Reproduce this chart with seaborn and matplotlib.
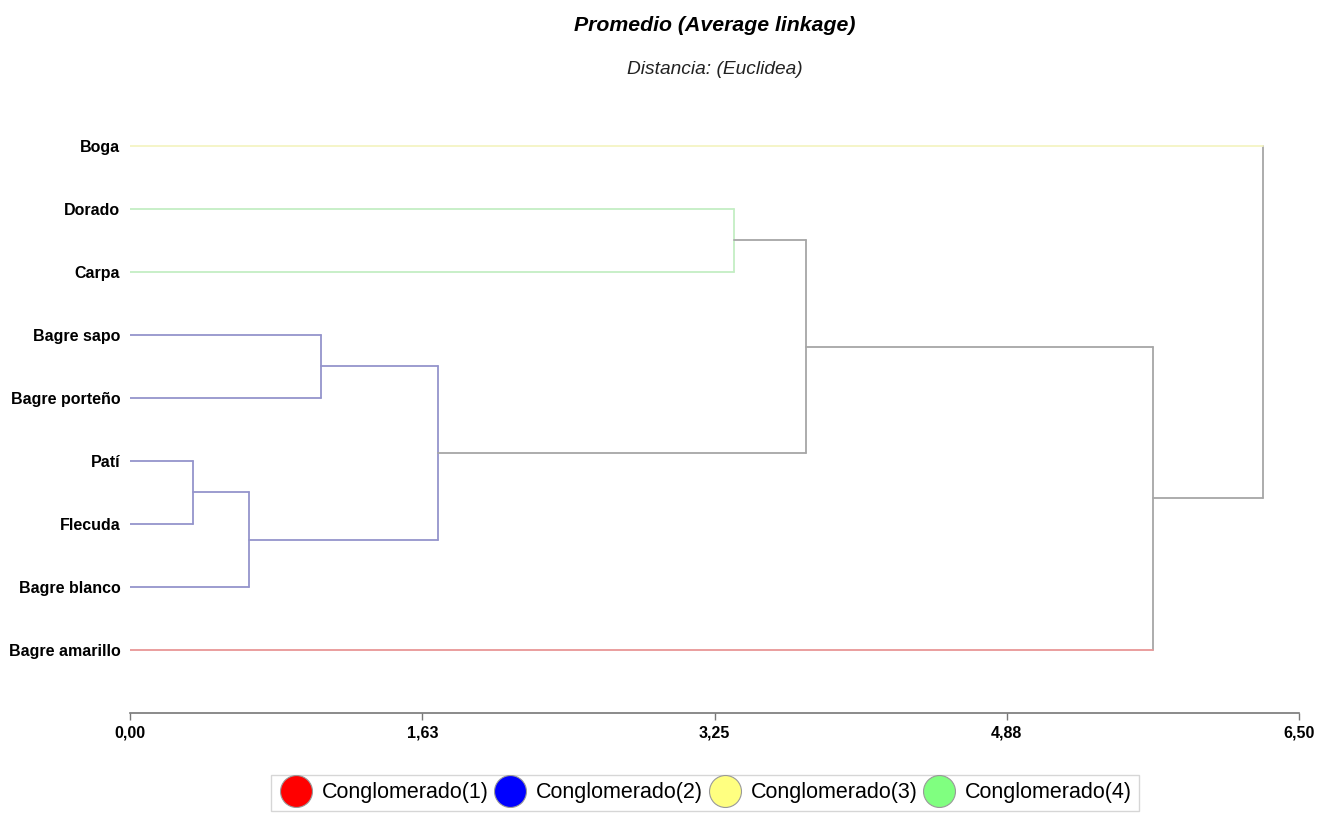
import pandas as pd
import matplotlib
matplotlib.use("Agg")
import matplotlib.pyplot as plt
import seaborn as sns
from matplotlib.lines import Line2D

# leaves, top to bottom, and their cluster (Conglomerado number)
leaves = ["Boga", "Dorado", "Carpa", "Bagre sapo", "Bagre porteño",
          "Patí", "Flecuda", "Bagre blanco", "Bagre amarillo"]
leaf_cluster = [3, 4, 4, 2, 2, 2, 2, 2, 1]

# merges (new node ids start at 9), distances
merge_left = [5, 9, 3, 11, 1, 13, 14, 15]
merge_right = [6, 7, 4, 10, 2, 12, 8, 0]
merge_height = [0.35, 0.66, 1.06, 1.71, 3.36, 3.76, 5.69, 6.30]

tick_values = [0.0, 1.625, 3.25, 4.875, 6.5]
tick_labels = ["0,00", "1,63", "3,25", "4,88", "6,50"]

legend_labels = ["Conglomerado(1)", "Conglomerado(2)", "Conglomerado(3)", "Conglomerado(4)"]
legend_colors = ["#ff0000", "#0000ff", "#ffff80", "#80ff80"]
link_colors = {"0": "#a6a6a6", "1": "#e89696", "2": "#9494cc", "3": "#f4f4c4", "4": "#c4eec4"}

# build segments of the dendrogram
n = len(leaves)
node_y = {i: float(i) for i in range(n)}
node_h = {i: 0.0 for i in range(n)}
node_c = {i: leaf_cluster[i] for i in range(n)}
rows = []
seg = 0
for k, (a, b, h) in enumerate(zip(merge_left, merge_right, merge_height)):
    node = n + k
    c = node_c[a] if node_c[a] == node_c[b] else 0
    for child in (a, b):
        col = node_c[child] if child < n else c
        rows.append({"x": node_h[child], "y": node_y[child], "seg": seg, "grp": str(col)})
        rows.append({"x": h, "y": node_y[child], "seg": seg, "grp": str(col)})
        seg += 1
    rows.append({"x": h, "y": node_y[a], "seg": seg, "grp": str(c)})
    rows.append({"x": h, "y": node_y[b], "seg": seg, "grp": str(c)})
    seg += 1
    node_y[node] = (node_y[a] + node_y[b]) / 2
    node_h[node] = h
    node_c[node] = c
df = pd.DataFrame(rows)

sns.set_theme(style="white")
plt.rcParams["font.family"] = ["Liberation Sans", "DejaVu Sans"]
plt.rcParams["text.color"] = "black"
plt.rcParams["xtick.labelcolor"] = "black"
plt.rcParams["ytick.labelcolor"] = "black"

fig = plt.figure(figsize=(13.31, 8.13), dpi=100)
ax = fig.add_axes([0.0977, 0.123, 0.8783, 0.775])

sns.lineplot(data=df, x="x", y="y", units="seg", hue="grp", palette=link_colors,
             estimator=None, sort=False, legend=False, lw=1.3, ax=ax)

ax.set_xlim(0, 6.5)
ax.set_ylim(9, -1)
ax.set_yticks(range(n))
ax.set_yticklabels(leaves, fontsize=11.5, fontweight="bold")
ax.set_xticks(tick_values)
ax.set_xticklabels(tick_labels, fontsize=11.5, fontweight="bold")
ax.tick_params(axis="y", length=0, pad=7)
ax.tick_params(axis="x", length=5, width=1, color="#777777", direction="out", pad=4, bottom=True)
ax.set_xlabel("")
ax.set_ylabel("")
for s in ["top", "right", "left"]:
    ax.spines[s].set_visible(False)
ax.spines["bottom"].set_color("#777777")
ax.spines["bottom"].set_linewidth(1.2)

fig.text(0.537, 0.969, "Promedio (Average linkage)", ha="center", va="center",
         fontsize=15.3, fontweight="bold", style="italic")
fig.text(0.537, 0.914, "Distancia: (Euclidea)", ha="center", va="center",
         fontsize=13.8, style="italic", color="#222222")

handles = [Line2D([], [], marker="o", ls="", markersize=23, markerfacecolor=c,
                  markeredgecolor="#999999", markeredgewidth=0.8) for c in legend_colors]
leg = fig.legend(handles, legend_labels, loc="lower center", bbox_to_anchor=(0.53, 0.0),
                 ncol=4, fontsize=15.5, frameon=True, fancybox=False, borderpad=0.35,
                 handletextpad=0.4, columnspacing=0.2, handlelength=1.6, borderaxespad=0.1)
leg.get_frame().set_edgecolor("#cccccc")
leg.get_frame().set_linewidth(1.0)

fig.savefig("out.png", dpi=100)
